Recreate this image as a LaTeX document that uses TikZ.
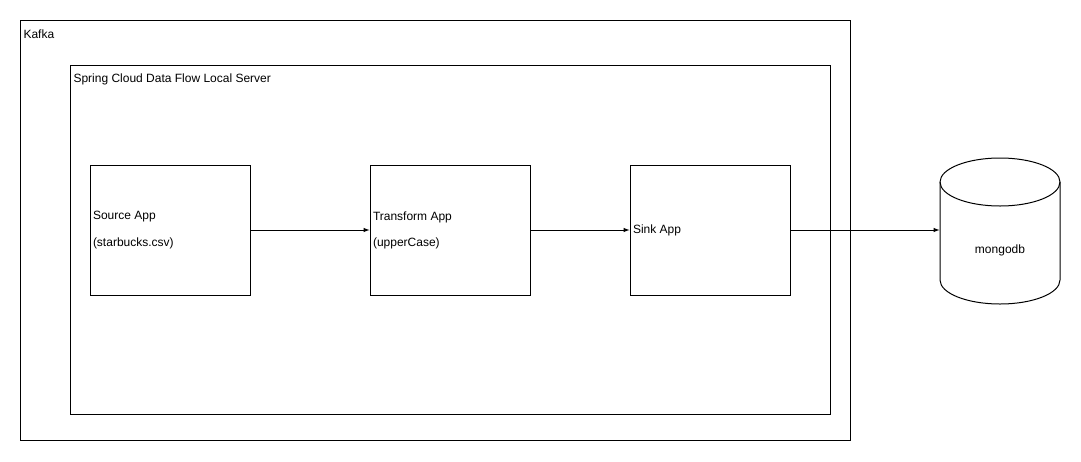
\documentclass[tikz,border=0pt]{standalone}
\usepackage{fontspec}
\setmainfont{Liberation Sans}
\usetikzlibrary{positioning}
\tikzset{
  app/.style={draw, minimum width=160pt, minimum height=130pt, inner sep=0pt},
  lbl/.style={anchor=west, inner sep=0pt},
  flow/.style={->, >=latex}
}
\begin{document}
\begin{tikzpicture}[x=1pt, y=-1pt, line width=1pt, font=\fontsize{12}{14}\selectfont]
    \useasboundingbox (0,0) rectangle (1081,461);
    % outer containers
    \node[draw, minimum width=830pt, minimum height=420pt, inner sep=0pt] (kafka) at (435,230) {};
    \node[lbl] (kafkalbl) at (23,34) {Kafka};
    \node[draw, minimum width=760pt, minimum height=349pt, inner sep=0pt] (scdf) at (450,239.5) {};
    \node[lbl] (scdflbl) at (73,79) {Spring Cloud Data Flow Local Server};
    % apps
    \node[app] (source) at (170,230) {};
    \node[app] (transform) at (450,230) {};
    \node[app] (sink) at (710,230) {};
    \node[lbl] at ([xshift=3pt, yshift=13pt]source.west) {Source App};
    \node[lbl] at ([xshift=3pt, yshift=-13pt]source.west) {(starbucks.csv)};
    \node[lbl] at ([xshift=3pt, yshift=13pt]transform.west) {Transform App};
    \node[lbl] at ([xshift=3pt, yshift=-13pt]transform.west) {(upperCase)};
    \node[lbl] at ([xshift=3pt]sink.west) {Sink App};
    % database
    \node[minimum width=120pt, minimum height=146pt, inner sep=0pt] (db) at (1000,230) {};
    \draw (940,182) -- (940,280) arc[start angle=180, end angle=0, x radius=60, y radius=24]
        -- (1060,182) arc[start angle=0, end angle=-180, x radius=60, y radius=24];
    \draw (940,182) arc[start angle=180, end angle=0, x radius=60, y radius=24];
    \node at (1000,250) {mongodb};
    % connectors
    \draw[flow] (source) -- (transform);
    \draw[flow] (transform) -- (sink);
    \draw[flow] (sink) -- (db.west);
\end{tikzpicture}
\end{document}
